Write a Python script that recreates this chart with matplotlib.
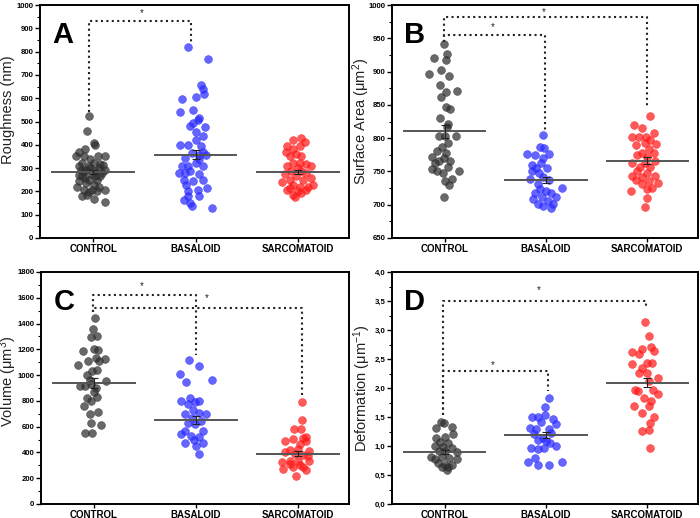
import matplotlib
matplotlib.use("Agg")
import matplotlib.pyplot as plt
from matplotlib.ticker import MultipleLocator, FuncFormatter

plt.rcParams['font.family'] = ['Liberation Sans', 'DejaVu Sans']

categories = ["CONTROL", "BASALOID", "SARCOMATOID"]

# ---------------- Panel A : Roughness (nm) ----------------
A_control = [524,460,407,397,371,381,350,353,339,350,353,324,324,319,307,307,300,293,286,286,276,264,264,250,250,243,236,229,221,221,207,207,207,196,200,186,179,169,153,271,314,290,300,290,279,267,257]
A_control_dx = [-0.04,-0.06,0.01,0.02,-0.14,-0.08,-0.17,-0.09,-0.03,0.05,0.12,-0.11,0.01,0.07,-0.14,-0.04,0.06,0.12,-0.09,0.02,-0.01,-0.11,0.07,-0.04,0.04,-0.14,-0.07,0.01,-0.16,0.06,-0.09,-0.01,0.12,-0.04,0.04,-0.06,-0.11,0.01,0.12,-0.14,0.10,-0.07,-0.03,-0.12,0.09,0.02,-0.08]
A_basaloid = [821,769,657,640,620,596,607,539,550,517,507,493,481,476,453,436,421,397,400,393,371,364,357,343,339,310,307,311,321,279,286,276,250,243,250,214,229,200,207,179,179,164,150,136,129,357,279]
A_basaloid_dx = [-0.07,0.12,0.05,0.07,0.08,-0.13,0.0,-0.15,-0.02,0.03,0.02,-0.02,-0.05,0.09,0.0,0.07,0.0,-0.15,-0.07,0.05,0.07,-0.03,0.03,-0.10,0.03,-0.13,-0.07,0.07,0.0,-0.16,-0.05,0.03,-0.11,-0.02,0.07,0.11,-0.09,-0.07,0.02,0.03,-0.07,-0.11,-0.05,-0.03,0.16,0.10,-0.10]
A_sarcomatoid = [429,421,393,381,396,414,371,361,350,350,324,321,319,307,300,307,286,286,276,279,264,250,250,257,239,229,221,229,221,214,200,186,193,207,207,176]
A_sarcomatoid_dx = [0.03,-0.05,-0.11,-0.05,0.02,0.07,-0.12,-0.02,-0.08,0.03,-0.05,0.02,0.08,-0.11,0.0,0.13,-0.07,0.03,-0.13,0.08,-0.02,-0.08,0.05,0.13,-0.15,-0.05,0.02,0.15,0.10,-0.08,0.0,-0.05,0.03,0.08,-0.11,-0.03]
A_means = [282, 358, 282]
A_sem = [9, 18, 8]

# ---------------- Panel B : Surface Area (um^2) ----------------
B_control = [941,926,921,917,903,896,894,880,870,871,862,847,844,830,821,817,803,803,803,792,787,780,778,772,770,766,765,762,753,750,757,751,747,735,738,729,712]
B_control_dx = [-0.01,0.02,-0.11,0.01,-0.04,-0.15,0.04,-0.05,0.01,0.12,-0.04,0.01,0.05,-0.05,0.03,0.02,-0.06,0.0,0.11,0.03,-0.03,-0.08,0.01,-0.13,-0.01,-0.06,0.05,-0.10,-0.13,-0.08,0.03,0.14,-0.02,0.0,0.07,0.04,-0.01]
B_basaloid = [805,787,785,776,776,775,770,760,762,755,755,750,747,738,741,737,731,725,723,720,717,717,712,712,708,705,701,701,698,695]
B_basaloid_dx = [-0.03,-0.06,-0.02,-0.19,0.03,-0.11,-0.03,-0.14,-0.05,-0.10,0.01,-0.14,-0.07,-0.16,-0.03,0.03,-0.08,0.16,-0.06,0.0,-0.11,0.05,-0.04,0.10,-0.13,0.02,-0.08,0.07,-0.03,0.05]
B_sarcomatoid = [833,819,815,808,801,801,802,797,791,792,790,783,778,777,775,772,762,765,762,757,757,750,748,743,742,743,737,736,732,731,725,723,721,710,697]
B_sarcomatoid_dx = [0.03,-0.13,-0.05,0.07,-0.15,-0.08,-0.01,0.03,0.09,-0.02,-0.11,0.02,-0.05,0.07,-0.10,0.0,-0.02,0.08,-0.15,-0.07,0.03,-0.10,0.0,-0.15,-0.05,0.08,-0.11,0.02,0.11,-0.05,0.05,0.0,-0.16,0.0,-0.02]
B_means = [810, 737, 766]
B_sem = [10, 4, 5]

# ---------------- Panel C : Volume (um^3) ----------------
C_control = [1446,1356,1305,1297,1190,1202,1195,1126,1113,1131,1110,1080,1041,1033,1003,964,956,913,918,930,900,867,823,828,803,759,695,715,631,613,554,554]
C_control_dx = [0.01,-0.01,0.03,-0.03,-0.11,0.0,0.04,0.11,-0.06,0.02,0.05,-0.16,0.03,-0.02,-0.07,-0.04,0.12,-0.14,-0.09,-0.03,0.02,0.0,-0.07,0.03,-0.03,-0.10,-0.04,0.04,-0.03,0.07,-0.09,-0.02]
C_basaloid = [1118,1067,1008,964,946,823,797,792,772,733,708,695,695,669,644,631,618,567,567,541,528,523,495,477,477,451,387,800]
C_basaloid_dx = [-0.07,0.03,-0.16,0.16,-0.10,-0.06,-0.15,-0.01,-0.08,-0.03,0.03,0.10,-0.11,-0.04,0.05,-0.08,-0.01,-0.11,0.07,-0.15,-0.05,0.03,-0.02,-0.11,0.07,0.0,0.03,0.03]
C_sarcomatoid = [792,651,580,515,580,490,503,490,464,418,426,413,400,387,382,336,323,331,336,285,272,285,264,221,310,520,370,300]
C_sarcomatoid_dx = [0.04,0.04,0.03,0.05,-0.04,-0.13,-0.05,0.08,0.02,-0.08,0.0,0.11,-0.13,-0.03,0.05,-0.08,-0.16,0.0,0.11,-0.05,-0.15,0.05,0.08,-0.02,-0.08,0.08,0.10,0.02]
C_means = [940, 652, 390]
C_sem = [40, 30, 20]

# ---------------- Panel D : Deformation (um^-1) ----------------
D_control = [1.41,1.39,1.33,1.31,1.21,1.15,1.14,1.07,1.06,1.00,0.98,0.97,0.92,0.90,0.91,0.81,0.77,0.81,0.80,0.77,0.71,0.68,0.67,0.64,0.59,0.63]
D_control_dx = [-0.04,-0.01,0.07,-0.09,0.08,0.0,-0.09,-0.05,0.03,-0.10,-0.02,0.07,0.0,0.12,-0.06,-0.14,-0.10,-0.03,0.04,0.12,-0.07,0.0,0.07,-0.03,0.02,0.03]
D_basaloid = [1.82,1.68,1.50,1.50,1.53,1.46,1.42,1.31,1.30,1.30,1.23,1.14,1.10,1.08,1.00,0.96,0.94,0.97,0.80,0.73,0.73,0.67,0.68,1.38,1.20,1.05]
D_basaloid_dx = [0.03,-0.01,-0.14,-0.08,-0.01,0.07,-0.05,-0.16,-0.10,0.03,0.05,-0.03,-0.08,0.0,0.10,-0.15,-0.08,-0.02,-0.11,-0.18,0.16,-0.08,0.03,0.10,-0.12,0.04]
D_sarcomatoid = [3.14,2.90,2.70,2.64,2.62,2.68,2.59,2.42,2.43,2.43,2.35,2.26,2.26,2.17,2.12,1.94,1.96,1.97,1.89,1.83,1.77,1.69,1.69,1.57,1.50,1.40,1.26,1.27,0.96]
D_sarcomatoid_dx = [-0.02,0.02,0.04,0.07,-0.15,-0.05,-0.08,-0.15,0.0,0.05,-0.05,-0.08,0.0,0.11,0.02,-0.09,-0.12,0.06,0.11,-0.03,0.04,-0.13,0.02,-0.05,0.07,0.03,-0.05,0.02,0.03]
D_means = [0.90, 1.19, 2.09]
D_sem = [0.03, 0.05, 0.08]

colors = ["#2e2e2e", "#2a2aff", "#ff1a1a"]

fig = plt.figure(figsize=(7.0, 5.18), dpi=100)


def comma_fmt(v, pos):
    return ("%.1f" % v).replace(".", ",")


def panel(rect, letter, groups, dxs, means, sems, ylim, major, minor, ylabel,
          label_xy, brackets, stars, fmt=None):
    ax = fig.add_axes(rect)
    for i, (vals, dx) in enumerate(zip(groups, dxs)):
        xs = [i + 1 + d for d in dx]
        ax.scatter(xs, vals, s=32, color=colors[i], alpha=0.72,
                   edgecolors=colors[i], linewidths=0.4, zorder=3)
        ax.plot([i + 1 - 0.4, i + 1 + 0.4], [means[i], means[i]],
                color="#555555", lw=1.4, zorder=4)
        ax.errorbar(i + 1, means[i], yerr=sems[i], color="#222222",
                    lw=0.8, capsize=3, capthick=0.8, zorder=5)
    for (x1, y1, x2, y2, yh) in brackets:
        ax.plot([x1, x1, x2, x2], [y1, yh, yh, y2], color="#222222",
                lw=1.5, ls=(0, (1, 1.6)), zorder=2)
    for (sx, sy) in stars:
        ax.text(sx, sy, "*", ha="center", va="center", fontsize=7,
                color="#222222")
    ax.set_xlim(0.48, 3.5)
    ax.set_ylim(*ylim)
    ax.set_xticks([1, 2, 3])
    ax.set_xticklabels(categories, fontsize=7, fontweight="bold")
    ax.yaxis.set_major_locator(MultipleLocator(major))
    ax.yaxis.set_minor_locator(MultipleLocator(minor))
    if fmt is not None:
        ax.yaxis.set_major_formatter(FuncFormatter(fmt))
    ax.tick_params(axis="y", which="major", direction="out", length=3.5,
                   width=1.0, labelsize=5.6, pad=1.2)
    ax.tick_params(axis="y", which="minor", direction="out", length=2,
                   width=0.8)
    ax.tick_params(axis="x", direction="out", length=3, width=1.0, pad=1)
    for lab in ax.get_yticklabels():
        lab.set_fontweight("bold")
    for sp in ax.spines.values():
        sp.set_linewidth(1.4)
    ax.set_ylabel(ylabel, fontsize=10.5, color="#222222")
    ax.yaxis.label.set_verticalalignment("center")
    ax.yaxis.set_label_coords(*label_xy)
    ax.text(0.04, 0.93, letter, transform=ax.transAxes, fontsize=21,
            fontweight="bold", va="top", ha="left")
    return ax


panel([40/700, 1-238/518, 309/700, 233/518], "A",
      [A_control, A_basaloid, A_sarcomatoid],
      [A_control_dx, A_basaloid_dx, A_sarcomatoid_dx],
      A_means, A_sem, (0, 1000), 100, 50, "Roughness (nm)", (-0.105, 0.55),
      [(0.96, 540, 1.96, 835, 930)], [(1.47, 965)])

panel([392/700, 1-238/518, 306/700, 233/518], "B",
      [B_control, B_basaloid, B_sarcomatoid],
      [B_control_dx, B_basaloid_dx, B_sarcomatoid_dx],
      B_means, B_sem, (650, 1000), 50, 25, "Surface Area ($\\mathregular{\\mu m^2}$)",
      (-0.102, 0.5),
      [(0.99, 945, 3.0, 847, 982), (0.99, 945, 1.99, 812, 955)],
      [(1.47, 967), (1.98, 989)])

panel([41/700, 1-504/518, 308/700, 232/518], "C",
      [C_control, C_basaloid, C_sarcomatoid],
      [C_control_dx, C_basaloid_dx, C_sarcomatoid_dx],
      C_means, C_sem, (0, 1800), 200, 100, "Volume ($\\mathregular{\\mu m^3}$)",
      (-0.108, 0.53),
      [(0.99, 1490, 2.0, 1156, 1618), (0.99, 1490, 3.04, 849, 1523)],
      [(1.47, 1690), (2.11, 1597)])

panel([392/700, 1-504/518, 306/700, 232/518], "D",
      [D_control, D_basaloid, D_sarcomatoid],
      [D_control_dx, D_basaloid_dx, D_sarcomatoid_dx],
      D_means, D_sem, (0, 4.0), 0.5, 0.25, "Deformation ($\\mathregular{\\mu m^{-1}}$)",
      (-0.097, 0.5),
      [(0.98, 1.54, 2.99, 3.38, 3.5), (0.98, 1.54, 2.02, 1.94, 2.30)],
      [(1.93, 3.68), (1.47, 2.40)], fmt=comma_fmt)

fig.savefig("out.png", dpi=100)
